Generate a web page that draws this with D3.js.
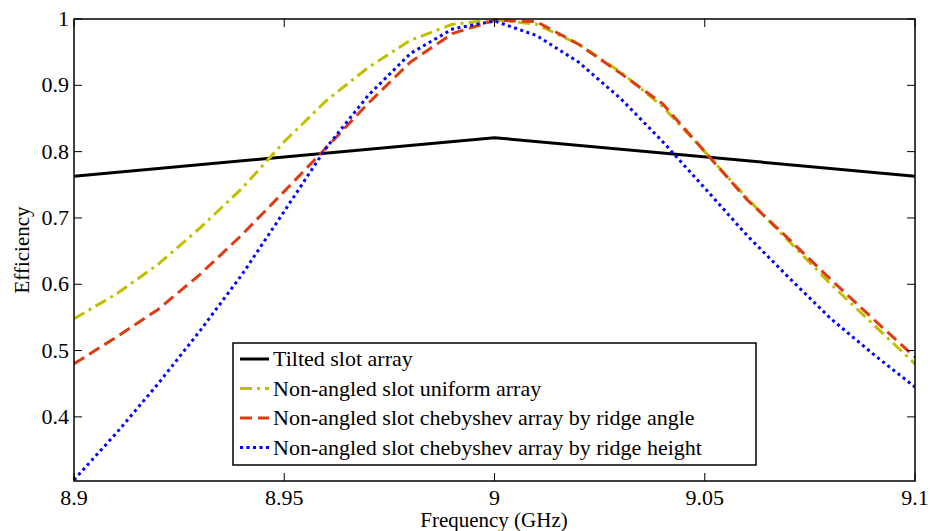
<!DOCTYPE html>
<html><head><meta charset="utf-8">
<script src="https://cdn.jsdelivr.net/npm/d3@7"></script>
<style>
body{margin:0;background:#fff}
svg text{font-family:"Liberation Serif" !important;}
</style>
</head><body>
<svg id="c" width="930" height="531"></svg>
<script>
const freqs = [8.90,8.91,8.92,8.93,8.94,8.95,8.96,8.97,8.98,8.99,9.00,9.01,9.02,9.03,9.04,9.05,9.06,9.07,9.08,9.09,9.10];
const tiltedFreqs = [8.90, 9.00, 9.10];
const tilted = [0.763, 0.821, 0.763];
const uniform = [0.548,0.585,0.630,0.685,0.745,0.815,0.877,0.927,0.968,0.992,0.999,0.992,0.962,0.920,0.868,0.800,0.730,0.665,0.600,0.540,0.480];
const ridgeAngle = [0.480,0.520,0.562,0.615,0.675,0.740,0.806,0.873,0.935,0.978,0.998,0.996,0.962,0.918,0.872,0.800,0.728,0.668,0.607,0.548,0.490];
const ridgeHeight = [0.305,0.375,0.450,0.530,0.615,0.710,0.806,0.885,0.948,0.985,0.997,0.975,0.935,0.880,0.815,0.745,0.674,0.610,0.548,0.495,0.445];
const xTicks = [8.9, 8.95, 9.0, 9.05, 9.1];
const xTickLabels = ["8.9","8.95","9","9.05","9.1"];
const yTicks = [0.4,0.5,0.6,0.7,0.8,0.9,1.0];
const yTickLabels = ["0.4","0.5","0.6","0.7","0.8","0.9","1"];
const seriesNames = ["Tilted slot array","Non-angled slot uniform array","Non-angled slot chebyshev array by ridge angle","Non-angled slot chebyshev array by ridge height"];
const seriesColors = ["#000000","#c0c000","#e03a10","#0000ff"];
const seriesDash = [null,"12,5,3,5","12,6","3,3.5"];

const svg = d3.select("#c");
const L=74,R=915,T=19,B=481;
const x = d3.scaleLinear().domain([8.9,9.1]).range([L,R]);
const y = d3.scaleLinear().domain([0.3033,1]).range([B,T]);

svg.append("defs").append("clipPath").attr("id","pc").append("rect")
  .attr("x",L).attr("y",T-3).attr("width",R-L).attr("height",B-T+3);

const line = d3.line().x(d=>x(d[0])).y(d=>y(d[1]));
const data = [
  d3.zip(tiltedFreqs,tilted),
  d3.zip(freqs,uniform),
  d3.zip(freqs,ridgeAngle),
  d3.zip(freqs,ridgeHeight)
];
const g = svg.append("g").attr("clip-path","url(#pc)");
data.forEach((d,i)=>{
  g.append("path").attr("d",line(d)).attr("fill","none")
   .attr("stroke",seriesColors[i]).attr("stroke-width",3)
   .attr("stroke-dasharray",seriesDash[i]);
});

function txt(sel){ return sel.append("text").attr("font-family","Liberation Serif").style("font-family",'"Liberation Serif"'); }

const ax = svg.append("g");
ax.append("rect").attr("x",L).attr("y",T).attr("width",R-L).attr("height",B-T)
  .attr("fill","none").attr("stroke","#000").attr("stroke-width",1.5);
const tl=8;
xTicks.forEach((t,i)=>{
  const px=x(t);
  ax.append("line").attr("x1",px).attr("x2",px).attr("y1",B).attr("y2",B-tl).attr("stroke","#000");
  ax.append("line").attr("x1",px).attr("x2",px).attr("y1",T).attr("y2",T+tl).attr("stroke","#000");
  txt(ax).attr("x",px).attr("y",505).attr("text-anchor","middle").attr("font-size",22).text(xTickLabels[i]);
});
yTicks.forEach((t,i)=>{
  const py=y(t);
  ax.append("line").attr("x1",L).attr("x2",L+tl).attr("y1",py).attr("y2",py).attr("stroke","#000");
  ax.append("line").attr("x1",R).attr("x2",R-tl).attr("y1",py).attr("y2",py).attr("stroke","#000");
  txt(ax).attr("x",69).attr("y",py+7).attr("text-anchor","end").attr("font-size",22).text(yTickLabels[i]);
});
txt(svg).attr("x",494).attr("y",527).attr("text-anchor","middle").attr("font-size",21).text("Frequency (GHz)");
txt(svg).attr("transform","translate(29,250) rotate(-90)").attr("text-anchor","middle").attr("font-size",21).text("Efficiency");

const lg = svg.append("g");
lg.append("rect").attr("x",233).attr("y",343).attr("width",523).attr("height",122)
  .attr("fill","#fff").attr("stroke","#000").attr("stroke-width",1.5);
seriesNames.forEach((n,i)=>{
  const cy = 359 + i*29.5;
  lg.append("line").attr("x1",240).attr("x2",269).attr("y1",cy).attr("y2",cy)
    .attr("stroke",seriesColors[i]).attr("stroke-width",3).attr("stroke-dasharray",seriesDash[i]);
  txt(lg).attr("x",273).attr("y",cy+7).attr("font-size",22).text(n);
});
</script>
</body></html>
